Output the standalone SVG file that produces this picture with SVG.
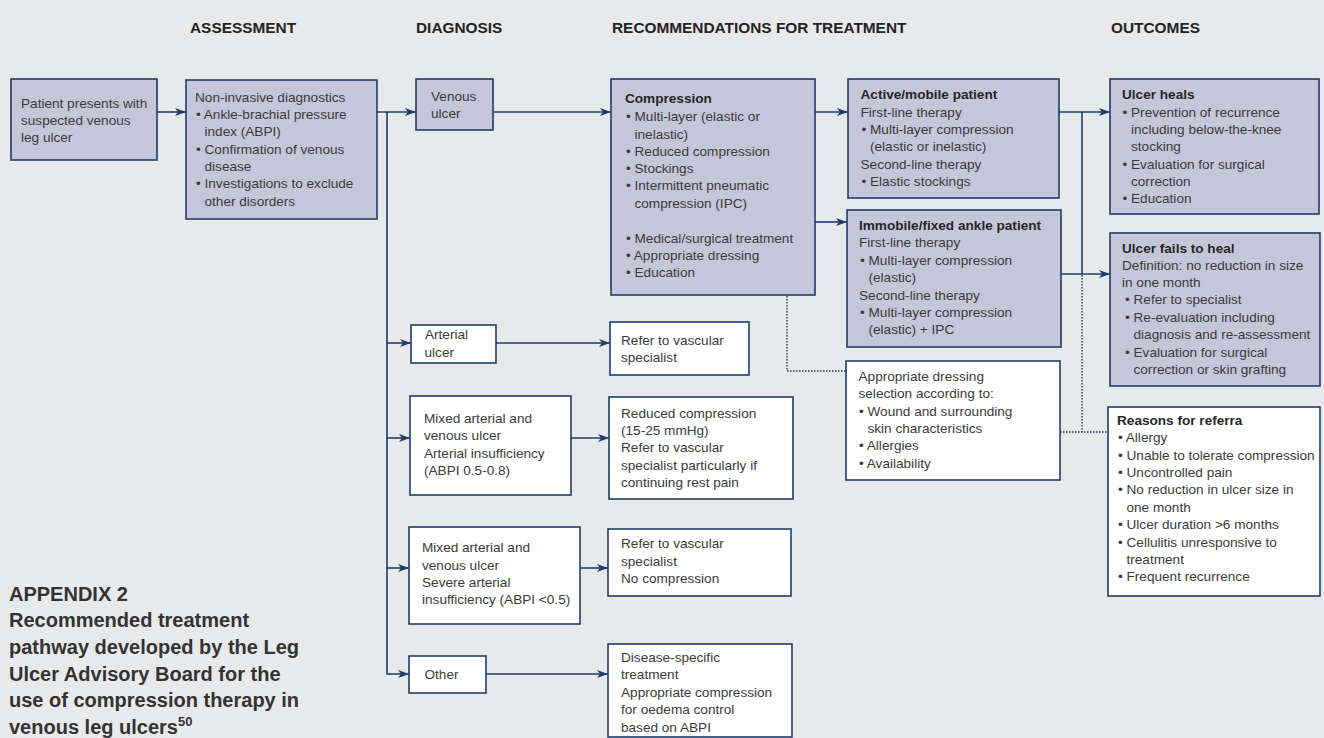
<svg xmlns="http://www.w3.org/2000/svg" width="1324" height="738" viewBox="0 0 1324 738">
<style>
text{font-family:"Liberation Sans",Arial,sans-serif;font-size:13.6px;fill:#3a3a3a}
.h{font-size:15.4px;font-weight:bold;fill:#232323}
.b{font-weight:bold;fill:#262626}
.ap{font-size:20px;font-weight:bold;fill:#333}
.f{fill:#c5c6da;stroke:#1f3d68;stroke-width:1.6}
.w{fill:#ffffff;stroke:#1f3d68;stroke-width:1.6}
.c{fill:none;stroke:#1f3d68;stroke-width:1.6}
.d{fill:none;stroke:#1f3d68;stroke-width:1.4;stroke-dasharray:1.5 1.5}
</style>
<defs>
<marker id="ar" markerUnits="userSpaceOnUse" markerWidth="12" markerHeight="9" refX="11" refY="4" orient="auto">
<path d="M0,0 L11,4 L0,8 L3,4 z" fill="#1f3d68"/>
</marker>
</defs>
<rect width="1324" height="738" fill="#e8e9eb"/>

<g id="headers">
<text class="h" x="190" y="32.5">ASSESSMENT</text>
<text class="h" x="416" y="32.5">DIAGNOSIS</text>
<text class="h" x="612" y="32.5">RECOMMENDATIONS FOR TREATMENT</text>
<text class="h" x="1111" y="32.5">OUTCOMES</text>
</g>

<g id="connectors">
<line class="c" x1="157" y1="112" x2="186" y2="112" marker-end="url(#ar)"/>
<line class="c" x1="377" y1="112" x2="416" y2="112" marker-end="url(#ar)"/>
<polyline class="c" points="387,112 387,674 409,674" marker-end="url(#ar)"/>
<line class="c" x1="387" y1="343" x2="411" y2="343" marker-end="url(#ar)"/>
<line class="c" x1="387" y1="438" x2="410" y2="438" marker-end="url(#ar)"/>
<line class="c" x1="387" y1="568" x2="409" y2="568" marker-end="url(#ar)"/>
<line class="c" x1="493" y1="112" x2="611" y2="112" marker-end="url(#ar)"/>
<line class="c" x1="496" y1="343" x2="610" y2="343" marker-end="url(#ar)"/>
<line class="c" x1="571" y1="438" x2="609" y2="438" marker-end="url(#ar)"/>
<line class="c" x1="580" y1="568" x2="608" y2="568" marker-end="url(#ar)"/>
<line class="c" x1="486" y1="674" x2="608" y2="674" marker-end="url(#ar)"/>
<line class="c" x1="815" y1="112" x2="848" y2="112" marker-end="url(#ar)"/>
<line class="c" x1="815" y1="222" x2="847" y2="222" marker-end="url(#ar)"/>
<line class="c" x1="1059" y1="112" x2="1110" y2="112" marker-end="url(#ar)"/>
<line class="c" x1="1082" y1="112" x2="1082" y2="274"/>
<line class="c" x1="1061" y1="274" x2="1110" y2="274" marker-end="url(#ar)"/>
<polyline class="d" points="787,296 787,371 846,371"/>
<line class="d" x1="1082" y1="275" x2="1082" y2="432"/>
<line class="d" x1="1060" y1="432" x2="1108" y2="432"/>
</g>

<g id="n-patient">
<rect class="f" x="11" y="79" width="146" height="81"/>
<text x="21" y="108">Patient presents with</text>
<text x="21" y="125">suspected venous</text>
<text x="21" y="142">leg ulcer</text>
</g>

<g id="n-noninvasive">
<rect class="f" x="186" y="80" width="191" height="139"/>
<text x="195" y="101.7">Non-invasive diagnostics</text>
<text x="196" y="119">• Ankle-brachial pressure</text>
<text x="204.5" y="136.3">index (ABPI)</text>
<text x="196" y="153.6">• Confirmation of venous</text>
<text x="204.5" y="170.9">disease</text>
<text x="196" y="188.2">• Investigations to exclude</text>
<text x="204.5" y="205.5">other disorders</text>
</g>

<g id="n-venous">
<rect class="f" x="416" y="79" width="77" height="51"/>
<text x="431" y="100.7">Venous</text>
<text x="431" y="117.5">ulcer</text>
</g>

<g id="n-compression">
<rect class="f" x="611" y="79" width="204" height="216"/>
<text class="b" x="625" y="103.3">Compression</text>
<text x="626" y="121.2">• Multi-layer (elastic or</text>
<text x="634.5" y="138.5">inelastic)</text>
<text x="626" y="155.8">• Reduced compression</text>
<text x="626" y="173.1">• Stockings</text>
<text x="626" y="190.4">• Intermittent pneumatic</text>
<text x="634.5" y="207.7">compression (IPC)</text>
<text x="626" y="242.5">• Medical/surgical treatment</text>
<text x="626" y="259.8">• Appropriate dressing</text>
<text x="626" y="277.1">• Education</text>
</g>

<g id="n-active">
<rect class="f" x="848" y="79" width="211" height="119"/>
<text class="b" x="860.5" y="99">Active/mobile patient</text>
<text x="860.5" y="116.5">First-line therapy</text>
<text x="861.5" y="134">• Multi-layer compression</text>
<text x="870" y="151.3">(elastic or inelastic)</text>
<text x="860.5" y="168.6">Second-line therapy</text>
<text x="861.5" y="185.9">• Elastic stockings</text>
</g>

<g id="n-immobile">
<rect class="f" x="847" y="210" width="214" height="137"/>
<text class="b" x="859" y="230">Immobile/fixed ankle patient</text>
<text x="859" y="247.3">First-line therapy</text>
<text x="860" y="264.8">• Multi-layer compression</text>
<text x="868.5" y="282.2">(elastic)</text>
<text x="859" y="299.6">Second-line therapy</text>
<text x="860" y="317">• Multi-layer compression</text>
<text x="868.5" y="334.3">(elastic) + IPC</text>
</g>

<g id="n-heals">
<rect class="f" x="1110" y="79" width="209" height="135"/>
<text class="b" x="1122" y="99">Ulcer heals</text>
<text x="1122.5" y="116.6">• Prevention of recurrence</text>
<text x="1131" y="134">including below-the-knee</text>
<text x="1131" y="151.3">stocking</text>
<text x="1122.5" y="168.7">• Evaluation for surgical</text>
<text x="1131" y="186">correction</text>
<text x="1122.5" y="203.3">• Education</text>
</g>

<g id="n-fails">
<rect class="f" x="1110" y="233" width="210" height="153"/>
<text class="b" x="1122" y="252.7">Ulcer fails to heal</text>
<text x="1122" y="269.6">Definition: no reduction in size</text>
<text x="1122" y="286.9">in one month</text>
<text x="1125" y="304.3">• Refer to specialist</text>
<text x="1125" y="321.7">• Re-evaluation including</text>
<text x="1133.5" y="339.2">diagnosis and re-assessment</text>
<text x="1125" y="356.6">• Evaluation for surgical</text>
<text x="1133.5" y="374">correction or skin grafting</text>
</g>

<g id="n-arterial">
<rect class="w" x="411" y="325" width="85" height="38"/>
<text x="425" y="339.3">Arterial</text>
<text x="424.5" y="356.7">ulcer</text>
</g>

<g id="n-refer1">
<rect class="w" x="610" y="322" width="139" height="53"/>
<text x="621" y="345">Refer to vascular</text>
<text x="621" y="361.7">specialist</text>
</g>

<g id="n-dressing">
<rect class="w" x="846" y="361" width="214" height="119"/>
<text x="858.5" y="380.7">Appropriate dressing</text>
<text x="858.5" y="398.2">selection according to:</text>
<text x="859" y="415.6">• Wound and surrounding</text>
<text x="867.5" y="433">skin characteristics</text>
<text x="859" y="450.4">• Allergies</text>
<text x="859" y="467.7">• Availability</text>
</g>

<g id="n-reasons">
<rect class="w" x="1108" y="407" width="212" height="189"/>
<text class="b" x="1117" y="425">Reasons for referra</text>
<text x="1118" y="442.3">• Allergy</text>
<text x="1118" y="459.7">• Unable to tolerate compression</text>
<text x="1118" y="477.1">• Uncontrolled pain</text>
<text x="1118" y="494.4">• No reduction in ulcer size in</text>
<text x="1126.5" y="511.7">one month</text>
<text x="1118" y="529">• Ulcer duration &gt;6 months</text>
<text x="1118" y="546.5">• Cellulitis unresponsive to</text>
<text x="1126.5" y="563.9">treatment</text>
<text x="1118" y="581.2">• Frequent recurrence</text>
</g>

<g id="n-mixed1">
<rect class="w" x="410" y="396" width="161" height="99"/>
<text x="424" y="422.7">Mixed arterial and</text>
<text x="424" y="440">venous ulcer</text>
<text x="424" y="457.5">Arterial insufficiency</text>
<text x="424" y="475">(ABPI 0.5-0.8)</text>
</g>

<g id="n-reduced">
<rect class="w" x="609" y="397" width="184" height="102"/>
<text x="621" y="417.7">Reduced compression</text>
<text x="621" y="435">(15-25 mmHg)</text>
<text x="621" y="452.4">Refer to vascular</text>
<text x="621" y="469.8">specialist particularly if</text>
<text x="621" y="487.2">continuing rest pain</text>
</g>

<g id="n-mixed2">
<rect class="w" x="409" y="527" width="171" height="97"/>
<text x="422" y="552.3">Mixed arterial and</text>
<text x="422" y="569.5">venous ulcer</text>
<text x="422" y="586.8">Severe arterial</text>
<text x="422" y="604.2">insufficiency (ABPI &lt;0.5)</text>
</g>

<g id="n-refer2">
<rect class="w" x="608" y="529" width="183" height="67"/>
<text x="621" y="548.3">Refer to vascular</text>
<text x="621" y="565.7">specialist</text>
<text x="621" y="583.2">No compression</text>
</g>

<g id="n-other">
<rect class="w" x="409" y="656" width="77" height="37"/>
<text x="424.5" y="678.7">Other</text>
</g>

<g id="n-disease">
<rect class="w" x="608" y="644" width="184" height="93"/>
<text x="621" y="661.7">Disease-specific</text>
<text x="621" y="679">treatment</text>
<text x="621" y="696.5">Appropriate compression</text>
<text x="621" y="714">for oedema control</text>
<text x="621" y="731.5">based on ABPI</text>
</g>

<g id="caption">
<text class="ap" x="9" y="600.7">APPENDIX 2</text>
<text class="ap" x="9" y="627.3">Recommended treatment</text>
<text class="ap" x="9" y="654">pathway developed by the Leg</text>
<text class="ap" x="9" y="680.7">Ulcer Advisory Board for the</text>
<text class="ap" x="9" y="707.3">use of compression therapy in</text>
<text class="ap" x="9" y="734">venous leg ulcers<tspan font-size="13" dy="-8">50</tspan></text>
</g>
</svg>
